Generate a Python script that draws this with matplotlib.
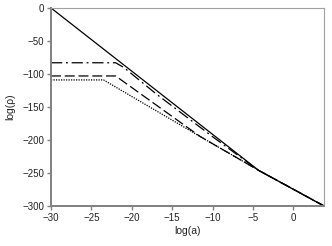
import matplotlib
matplotlib.use("Agg")
import matplotlib.pyplot as plt

# data (log(a) vs log(rho))
x_solid = [-30, -4.3, 3.8]
y_solid = [0, -246, -300]

x_dashdot = [-30, -22, -21, -17, -10, -4.3, 3.8]
y_dashdot = [-83, -83, -90, -130, -195, -246, -300]

x_dashed = [-30, -22, -11.5, -4.3, 3.8]
y_dashed = [-103, -103, -195, -246, -300]

x_dotted = [-30, -23.5, -11.5, -4.3, 3.8]
y_dotted = [-109, -109, -195, -246, -300]

xticks = [-30, -25, -20, -15, -10, -5, 0]
yticks = [0, -50, -100, -150, -200, -250, -300]

plt.rcParams['font.family'] = ['Liberation Sans', 'DejaVu Sans']

fig = plt.figure(figsize=(3.32, 2.46), dpi=100)
ax = fig.add_axes([0.1536, 0.1626, 0.8224, 0.805])

ax.plot(x_solid, y_solid, color='black', lw=0.9, ls='-')
ax.plot(x_dashdot, y_dashdot, color='black', lw=0.9, ls=(0, (9, 3, 1.5, 3)))
ax.plot(x_dashed, y_dashed, color='black', lw=0.9, ls=(0, (8, 3)))
ax.plot(x_dotted, y_dotted, color='black', lw=0.9, ls=(0, (1, 1)))

ax.set_xlim(-30, 3.8)
ax.set_ylim(-300, 0)
ax.set_xticks(xticks)
ax.set_yticks(yticks)
ax.tick_params(labelsize=7, length=3, width=1, direction='out', pad=2)
ax.tick_params(axis='x', colors='#808080', labelcolor='#222222')
ax.tick_params(axis='y', colors='#808080', labelcolor='#222222')

for s in ['left', 'bottom']:
    ax.spines[s].set_color('#808080')
    ax.spines[s].set_linewidth(1.4)
for s in ['top', 'right']:
    ax.spines[s].set_color('#a0a0a0')
    ax.spines[s].set_linewidth(0.8)

ax.set_xlabel('log(a)', fontsize=7.5, color='#222222', labelpad=2)
ax.set_ylabel('log(ρ)', fontsize=7.5, color='#222222', labelpad=5)

fig.savefig('out.png', dpi=100)
